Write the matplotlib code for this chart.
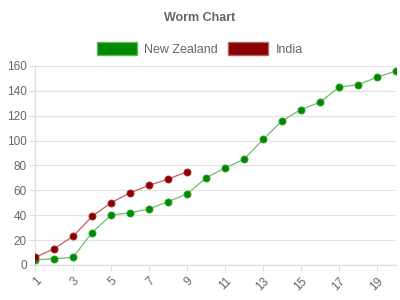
import matplotlib.pyplot as plt
from matplotlib.patches import Patch

# Overs and cumulative runs
overs_nz = list(range(1, 21))
runs_nz = [4, 5, 6, 26, 40, 42, 45, 51, 57, 70, 78, 85, 101, 116, 125, 131, 143, 145, 151, 156]
overs_ind = list(range(1, 10))
runs_ind = [6, 13, 23, 39, 50, 58, 64, 69, 75]

green = '#008a00'
red = '#8b0000'

plt.rcParams['font.family'] = ['Liberation Sans', 'DejaVu Sans']

fig = plt.figure(figsize=(4, 3), dpi=100)
ax = fig.add_axes([0.0875, 0.117, 0.903, 0.663])

ax.plot(overs_nz, runs_nz, color='#6dbf6d', lw=0.9, zorder=2)
ax.scatter(overs_nz, runs_nz, s=26, color=green, edgecolors='#33a033', linewidths=0.6, zorder=3)
ax.plot(overs_ind, runs_ind, color='#c06060', lw=0.9, zorder=2)
ax.scatter(overs_ind, runs_ind, s=26, color=red, edgecolors='#a83030', linewidths=0.6, zorder=3)

ax.set_xlim(1, 20)
ax.set_ylim(0, 160)
ax.set_yticks(range(0, 161, 20))
ax.set_xticks(range(1, 21, 2))
ax.tick_params(axis='x', labelrotation=45, colors='#666666', labelsize=8.5, length=4, width=0.8)
ax.tick_params(axis='y', colors='#666666', labelsize=8.5, length=4, width=0.8, pad=2)
for lbl in ax.get_xticklabels():
    lbl.set_ha('right')
    lbl.set_rotation_mode('anchor')
ax.tick_params(axis='x', color='#dddddd')
ax.tick_params(axis='y', color='#dddddd')

ax.grid(axis='y', color='#e3e3e3', lw=0.9)
ax.set_axisbelow(True)
for s in ['top', 'right']:
    ax.spines[s].set_visible(False)
for s in ['left', 'bottom']:
    ax.spines[s].set_color('#dddddd')
    ax.spines[s].set_linewidth(0.9)

fig.text(0.5, 0.94, 'Worm Chart', ha='center', va='center', fontsize=9, fontweight='bold', color='#666666')

handles = [Patch(facecolor=green, edgecolor='#66b366', label='New Zealand'),
           Patch(facecolor=red, edgecolor='#b36666', label='India')]
fig.legend(handles=handles, loc='center', bbox_to_anchor=(0.5, 0.837), ncol=2, frameon=False,
           fontsize=9, labelcolor='#666666', handlelength=3.2, handleheight=1.2,
           columnspacing=0.8, handletextpad=0.6)

fig.savefig('out.png', dpi=100)
